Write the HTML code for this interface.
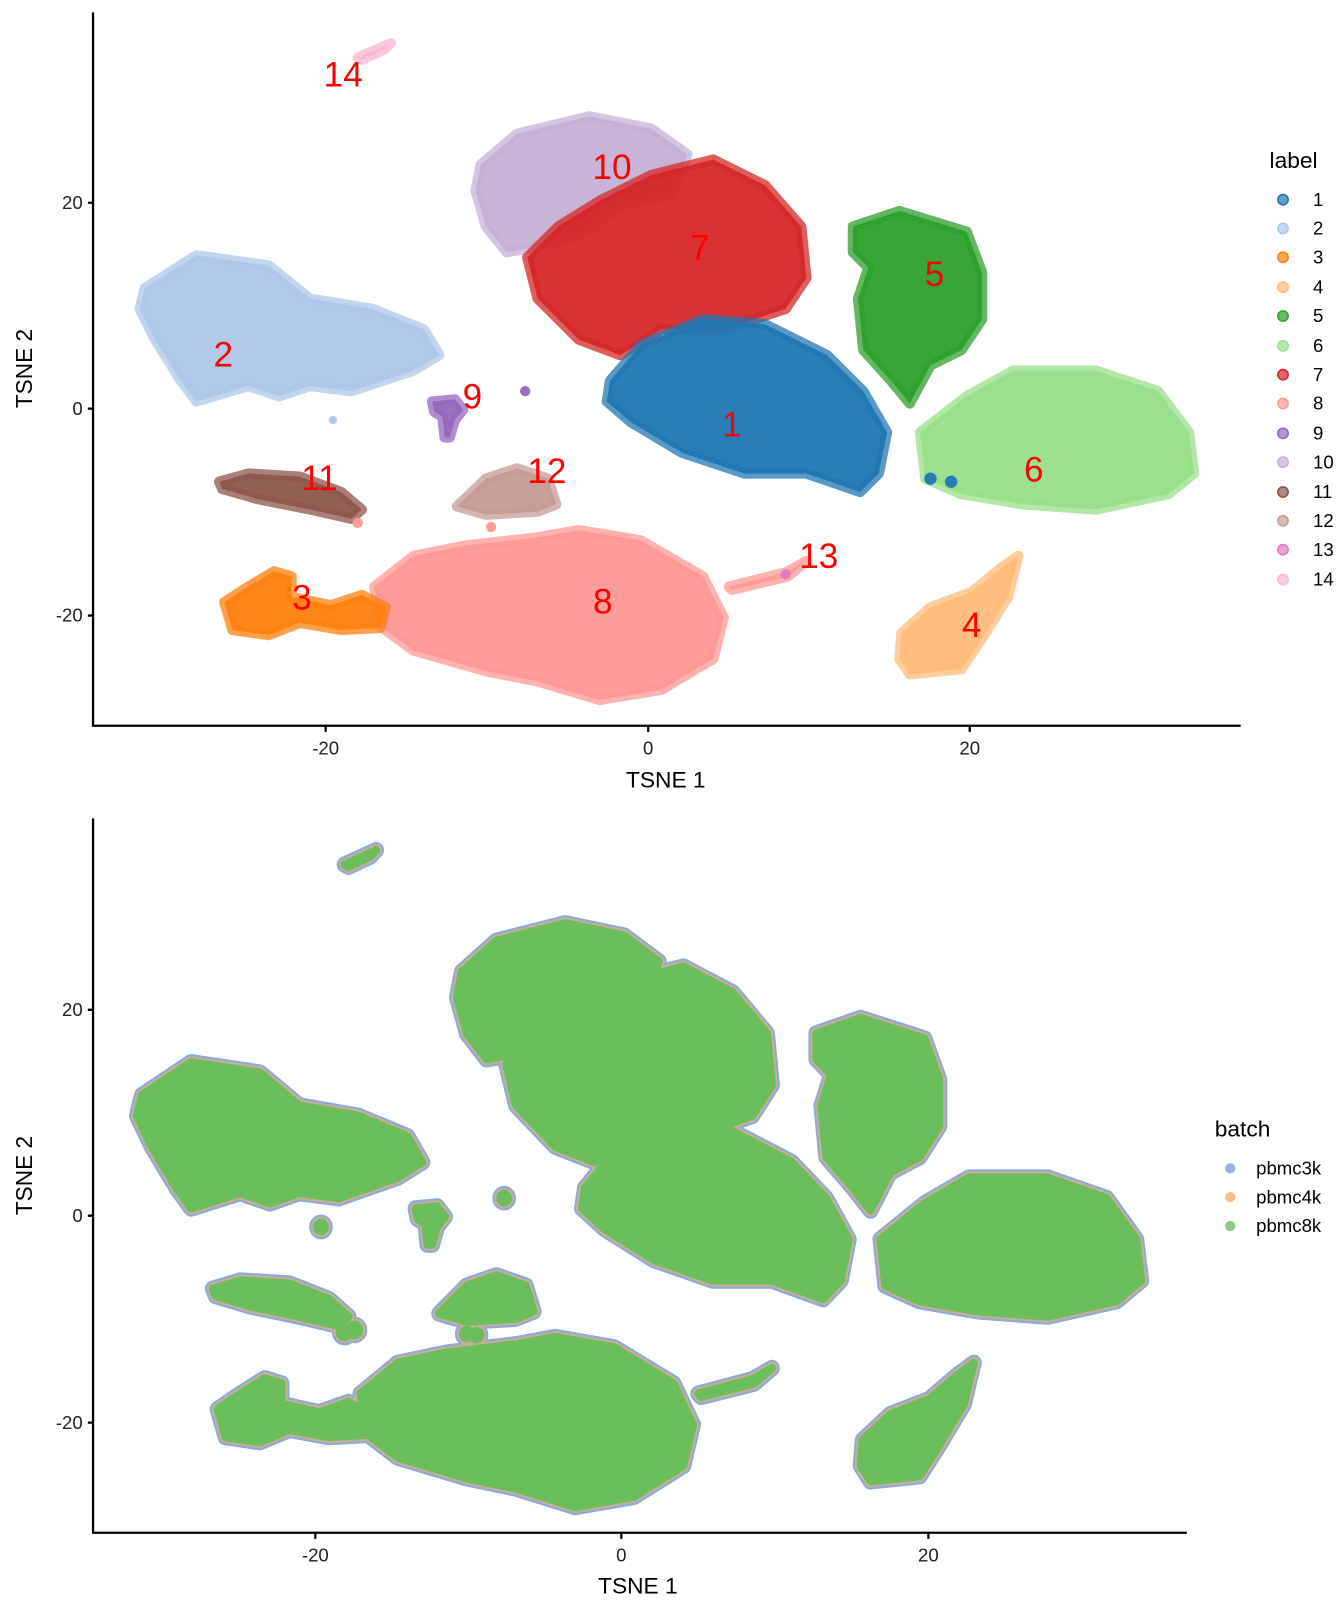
<!DOCTYPE html>
<html><head><meta charset="utf-8"><style>
html,body{margin:0;padding:0;background:#fff;}
svg{display:block;}
text{font-family:"Liberation Sans",sans-serif;}
</style></head><body>
<svg width="1344" height="1612" viewBox="0 0 1300 1566" preserveAspectRatio="none" xmlns="http://www.w3.org/2000/svg">
<defs>
<path id="c2" d="M140,280 L190,248 L260,258 L300,290 L360,300 L410,320 L425,345 L400,360 L340,380 L300,375 L270,385 L240,375 L190,390 L175,370 L150,330 L135,300 Z"/>
<path id="c10" d="M465,160 L500,130 L570,113 L630,125 L665,150 L650,190 L600,200 L560,230 L520,240 L490,245 L470,220 L460,185 Z"/>
<path id="c7" d="M510,250 L540,220 L580,195 L630,170 L690,155 L740,180 L775,220 L780,270 L760,300 L700,320 L640,320 L600,345 L560,330 L520,290 Z"/>
<path id="c1" d="M590,370 L620,335 L680,310 L740,315 L800,345 L835,380 L858,420 L850,460 L832,478 L780,460 L720,460 L660,440 L610,410 L587,390 Z"/>
<path id="c5" d="M825,220 L870,205 L935,225 L950,265 L950,310 L930,340 L900,355 L880,392 L862,370 L835,340 L830,290 L840,260 L825,245 Z"/>
<path id="c6" d="M890,420 L935,385 L980,360 L1060,360 L1120,380 L1150,420 L1155,460 L1130,480 L1060,495 L990,490 L930,480 L895,465 Z"/>
<path id="c8" d="M362,570 L400,540 L450,530 L520,522 L560,515 L620,525 L680,560 L700,600 L690,640 L640,670 L580,680 L520,662 L470,652 L400,632 L370,610 Z"/>
<path id="c3" d="M217,585 L240,570 L265,555 L282,560 L282,580 L320,588 L350,578 L373,590 L368,610 L330,612 L290,605 L260,617 L225,612 Z"/>
<path id="c4" d="M872,615 L900,590 L940,575 L968,552 L985,540 L975,580 L950,620 L930,650 L880,655 L870,640 Z"/>
<path id="c11" d="M212,468 L240,460 L290,463 L330,478 L350,495 L340,504 L300,495 L250,485 L215,475 Z"/>
<path id="c12" d="M442,492 L470,465 L500,455 L530,465 L538,490 L520,497 L470,500 Z"/>
<path id="c9" d="M418,390 L440,388 L448,398 L440,408 L435,425 L430,425 L428,405 L420,400 Z"/>
<path id="c14" d="M346,56 L378,42 L372,48 L350,58 Z"/>
<path id="c13" d="M705,570 L760,556 L780,545 L762,560 L708,573 Z"/>
<g id="all">
<use href="#c2"/><use href="#c10"/><use href="#c7"/><use href="#c1"/><use href="#c5"/><use href="#c6"/><use href="#c8"/><use href="#c3"/><use href="#c4"/><use href="#c11"/><use href="#c12"/><use href="#c9"/><use href="#c14"/><use href="#c13"/>
<path d="M560,330 L620,340 L700,320 L640,310 Z"/>
<circle cx="322" cy="408" r="4"/><circle cx="508" cy="380" r="4"/><circle cx="470" cy="512" r="4"/><circle cx="480" cy="513" r="4"/>
<circle cx="346" cy="510" r="5"/><circle cx="356" cy="508" r="5"/>
</g>
</defs>

<!-- TOP PLOT -->
<g stroke-width="10" stroke-linejoin="round" fill-opacity="0.95" stroke-opacity="0.75">
<use href="#c2" fill="#aec7e8" stroke="#aec7e8"/>
<circle cx="322" cy="408" r="4" fill="#aec7e8"/>
<use href="#c10" fill="#c5b0d5" stroke="#c5b0d5"/>
<use href="#c7" fill="#d62728" stroke="#d62728"/>
<use href="#c1" fill="#1f77b4" stroke="#1f77b4"/>
<use href="#c5" fill="#2ca02c" stroke="#2ca02c"/>
<use href="#c6" fill="#98df8a" stroke="#98df8a"/>
<use href="#c8" fill="#ff9896" stroke="#ff9896"/>
<use href="#c3" fill="#ff7f0e" stroke="#ff7f0e"/>
<use href="#c4" fill="#ffbb78" stroke="#ffbb78"/>
<use href="#c11" fill="#8c564b" stroke="#8c564b"/>
<use href="#c12" fill="#c49c94" stroke="#c49c94"/>
<use href="#c9" fill="#9467bd" stroke="#9467bd"/>
<use href="#c14" fill="#f7b6d2" stroke="#f7b6d2"/>
<use href="#c13" fill="#ff9896" stroke="#ff9896"/>
<circle cx="508" cy="380" r="5" fill="#9467bd"/>
<circle cx="760" cy="558" r="5" fill="#e377c2"/>
<circle cx="346" cy="508" r="5" fill="#ff9896"/>
<circle cx="475" cy="512" r="5" fill="#ff9896"/>
<circle cx="900" cy="465" r="6" fill="#1f77b4"/><circle cx="920" cy="468" r="6" fill="#1f77b4"/>
</g>
<g fill="#ff0000" font-size="34" text-anchor="middle">
<text x="708" y="424">1</text><text x="216" y="356">2</text><text x="292" y="592">3</text>
<text x="940" y="619">4</text><text x="904" y="278">5</text><text x="1000" y="468">6</text>
<text x="677" y="252">7</text><text x="583" y="596">8</text><text x="457" y="397">9</text>
<text x="592" y="174">10</text><text x="309" y="476">11</text><text x="529" y="469">12</text>
<text x="792" y="552">13</text><text x="332" y="84">14</text>
</g>
<g stroke="#000" stroke-width="2.2" fill="none">
<path d="M90,12 V705 H1200"/>
<path d="M85,197 H90 M85,397 H90 M85,598 H90 M315,705 V711 M627,705 V711 M938,705 V711"/>
</g>
<g font-size="18" fill="#222">
<g text-anchor="end"><text x="80" y="203">20</text><text x="80" y="403">0</text><text x="80" y="604">-20</text></g>
<g text-anchor="middle"><text x="315" y="733">-20</text><text x="627" y="733">0</text><text x="938" y="733">20</text></g>
</g>
<text x="644" y="765" font-size="22" text-anchor="middle">TSNE 1</text>
<text transform="translate(31,358) rotate(-90)" font-size="22" text-anchor="middle">TSNE 2</text>
<text x="1228" y="163" font-size="22">label</text>
<g font-size="18">
<g fill-opacity="0.7" stroke-width="1.5">
<circle cx="1241" cy="194" r="5" fill="#1f77b4" stroke="#1f77b4"/>
<circle cx="1241" cy="222" r="5" fill="#aec7e8" stroke="#aec7e8"/>
<circle cx="1241" cy="250" r="5" fill="#ff7f0e" stroke="#ff7f0e"/>
<circle cx="1241" cy="279" r="5" fill="#ffbb78" stroke="#ffbb78"/>
<circle cx="1241" cy="307" r="5" fill="#2ca02c" stroke="#2ca02c"/>
<circle cx="1241" cy="336" r="5" fill="#98df8a" stroke="#98df8a"/>
<circle cx="1241" cy="364" r="5" fill="#d62728" stroke="#d62728"/>
<circle cx="1241" cy="392" r="5" fill="#ff9896" stroke="#ff9896"/>
<circle cx="1241" cy="421" r="5" fill="#9467bd" stroke="#9467bd"/>
<circle cx="1241" cy="449" r="5" fill="#c5b0d5" stroke="#c5b0d5"/>
<circle cx="1241" cy="478" r="5" fill="#8c564b" stroke="#8c564b"/>
<circle cx="1241" cy="506" r="5" fill="#c49c94" stroke="#c49c94"/>
<circle cx="1241" cy="534" r="5" fill="#e377c2" stroke="#e377c2"/>
<circle cx="1241" cy="563" r="5" fill="#f7b6d2" stroke="#f7b6d2"/>
</g>
<text x="1270" y="200">1</text><text x="1270" y="228">2</text><text x="1270" y="256">3</text>
<text x="1270" y="285">4</text><text x="1270" y="313">5</text><text x="1270" y="342">6</text>
<text x="1270" y="370">7</text><text x="1270" y="398">8</text><text x="1270" y="427">9</text>
<text x="1270" y="455">10</text><text x="1270" y="484">11</text><text x="1270" y="512">12</text>
<text x="1270" y="540">13</text><text x="1270" y="569">14</text>
</g>

<!-- BOTTOM PLOT -->
<g transform="translate(601,1181) scale(0.9525,1) translate(-627,-397)" stroke-linejoin="round">
<use href="#all" fill="#7ba3d8" stroke="#7ba3d8" stroke-width="16" opacity="0.9"/>
<use href="#all" fill="#fdae6b" stroke="#fdae6b" stroke-width="12" opacity="0.6"/>
<use href="#all" fill="#6abf5c" stroke="#6abf5c" stroke-width="8"/>
</g>
<g stroke="#000" stroke-width="2.2" fill="none">
<path d="M90,795 V1489 H1148"/>
<path d="M85,981 H90 M85,1181 H90 M85,1382 H90 M305,1489 V1495 M601,1489 V1495 M898,1489 V1495"/>
</g>
<g font-size="18" fill="#222">
<g text-anchor="end"><text x="80" y="987">20</text><text x="80" y="1187">0</text><text x="80" y="1388">-20</text></g>
<g text-anchor="middle"><text x="305" y="1517">-20</text><text x="601" y="1517">0</text><text x="898" y="1517">20</text></g>
</g>
<text x="617" y="1548" font-size="22" text-anchor="middle">TSNE 1</text>
<text transform="translate(31,1142) rotate(-90)" font-size="22" text-anchor="middle">TSNE 2</text>
<text x="1175" y="1104" font-size="22">batch</text>
<g font-size="18">
<circle cx="1190" cy="1135" r="5" fill="#7ba3d8" fill-opacity="0.8"/>
<circle cx="1190" cy="1163" r="5" fill="#fdae6b" fill-opacity="0.8"/>
<circle cx="1190" cy="1191" r="5" fill="#6abf5c" fill-opacity="0.8"/>
<text x="1215" y="1141">pbmc3k</text><text x="1215" y="1169">pbmc4k</text><text x="1215" y="1197">pbmc8k</text>
</g>
</svg>
</body></html>
